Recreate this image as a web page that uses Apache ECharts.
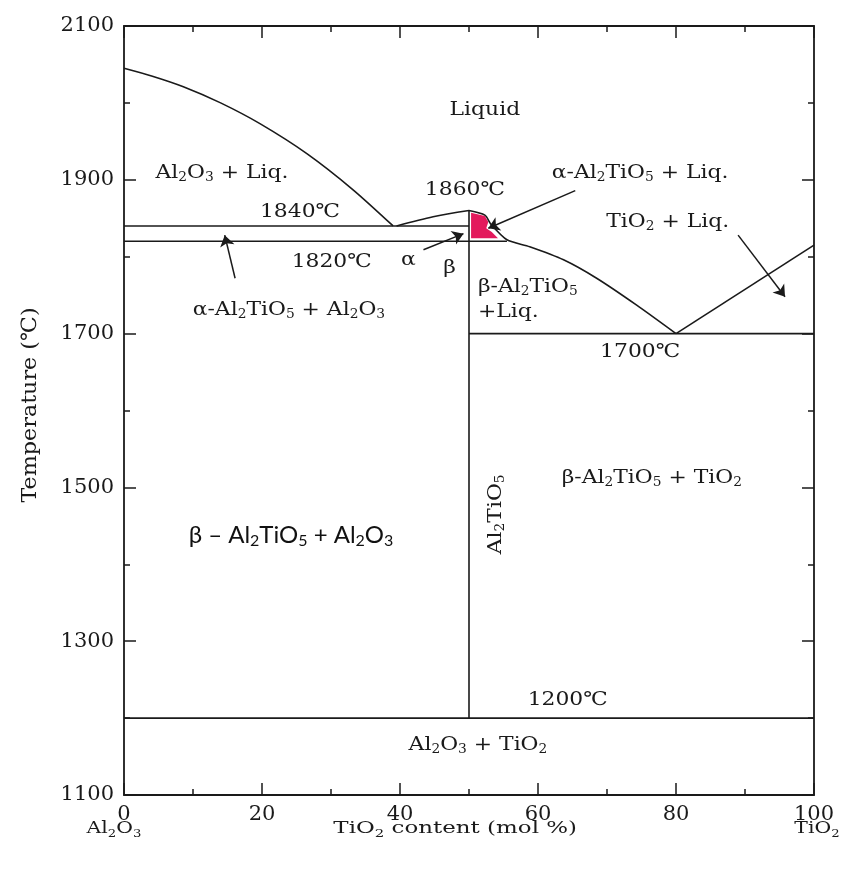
<!DOCTYPE html>
<html><head><meta charset="utf-8">
<script src="https://cdn.jsdelivr.net/npm/echarts@6/dist/echarts.min.js"></script>
<style>html,body{margin:0;padding:0;background:#fff}#c{width:849px;height:869px}</style>
</head><body><div id="c"></div>
<script>
// ---- data (TiO2 mol %, temperature °C) ----
const xTickLabels = [0, 20, 40, 60, 80, 100];
const yTickLabels = [1100, 1300, 1500, 1700, 1900, 2100];
const liquidusLeft = [[0,2045],[4,2035],[8.6,2021],[14,2000],[19.7,1973],[26.5,1934],[33.2,1887],[39,1840]];
const liquidusMid = [[39.5,1840],[44.8,1852],[50,1860]];
const liquidusRight = [[50,1860],[52.3,1854],[53.2,1842],[55.5,1822],[58.8,1813],[63.7,1796],[68.5,1772],[74.3,1737],[80,1700]];
const liquidusTiO2 = [[80,1700],[100,1815]];
const iso1840 = [[0,1840],[50,1840]];
const iso1820 = [[0,1820],[55.5,1820]];
const iso1700 = [[50,1700],[100,1700]];
const iso1200 = [[0,1200],[100,1200]];
const al2tio5Line = [[50,1200],[50,1860]];
const alphaRegion = [[50.3,1857],[52.3,1853],[52.8,1845],[52.5,1837],[53.3,1832],[54.2,1824],[50.3,1824]];
const arrowTails = [[16.1,1772],[43.4,1809],[65.4,1886],[89.0,1828]];
const arrowHeads = [[14.6,1828],[49.2,1830],[52.8,1837],[95.8,1748]];
const labelTexts = ['Liquid','Al_2O_3 + Liq.','1840℃','1860℃','α-Al_2TiO_5 + Liq.','TiO_2 + Liq.','1820℃','α','β',
  'α-Al_2TiO_5 + Al_2O_3','β-Al_2TiO_5','+Liq.','1700℃','β-Al_2TiO_5 + TiO_2','Al_2O_3 + TiO_2','1200℃'];
const labelPos = [[52.3,1991],[14.2,1909],[25.5,1858],[49.4,1887],[74.8,1909],[78.8,1845],[30.1,1793],[41.2,1796],[47.2,1785],
  [23.9,1731],[51.3,1761],[51.3,1728],[74.8,1676],[76.5,1512],[51.3,1165],[64.3,1224]];
const labelAlign = ['center','center','center','center','center','center','center','center','center',
  'center','left','left','center','center','center','center'];
const sansLabel = 'β – Al_2TiO_5 + Al_2O_3';
const sansLabelPos = [24.2,1438];
const verticalLabel = 'Al_2TiO_5';
const verticalLabelPos = [53.9,1465];
const xAxisName = 'TiO_2 content (mol %)';
const yAxisName = 'Temperature (℃)';
const xEndLeft = 'Al_2O_3', xEndRight = 'TiO_2';

const SERIF = '"DejaVu Serif", "Liberation Serif", serif';
const SANS = 'Lato, "Open Sans", "Liberation Sans", sans-serif';
const INK = '#1a1a1a';

function toRich(s){ return s.replace(/_(\d)/g, '{s|$1}'); }
function serifRich(size){
  return { s: { fontFamily: SERIF, fontSize: Math.round(size*0.62), verticalAlign: 'bottom', lineHeight: Math.round(size*0.7), fill: INK } };
}

const chart = echarts.init(document.getElementById('c'), null, {renderer: 'canvas'});

function lineSeries(data, smooth){
  return { type: 'line', data: data, symbol: 'none', smooth: smooth || false, silent: true,
    lineStyle: { color: INK, width: 1.6 }, z: 3, animation: false };
}

const axisCommonX = {
  type: 'value', min: 0, max: 100, interval: 20,
  axisLine: { show: true, onZero: false, lineStyle: { color: INK, width: 1.8 } },
  axisTick: { show: true, inside: true, length: 12, lineStyle: { color: INK, width: 1.5 } },
  minorTick: { show: true, splitNumber: 2, length: 6, lineStyle: { color: INK, width: 1.5 } },
  splitLine: { show: false }, minorSplitLine: { show: false }
};
const axisCommonY = {
  type: 'value', min: 1100, max: 2100, interval: 200,
  axisLine: { show: true, onZero: false, lineStyle: { color: INK, width: 1.8 } },
  axisTick: { show: true, inside: true, length: 12, lineStyle: { color: INK, width: 1.5 } },
  minorTick: { show: true, splitNumber: 2, length: 6, lineStyle: { color: INK, width: 1.5 } },
  splitLine: { show: false }, minorSplitLine: { show: false }
};

chart.setOption({
  animation: false,
  backgroundColor: '#fff',
  grid: { left: 124, right: 35, top: 26, bottom: 74, containLabel: false },
  xAxis: [
    Object.assign({}, axisCommonX, { position: 'bottom',
      axisLabel: { show: true, margin: 9, fontFamily: SERIF, fontSize: 21, color: INK,
        formatter: v => xTickLabels.indexOf(v) >= 0 ? String(v) : '' } }),
    Object.assign({}, axisCommonX, { position: 'top', axisLabel: { show: false } })
  ],
  yAxis: [
    Object.assign({}, axisCommonY, { position: 'left',
      axisLabel: { show: true, margin: 10, fontFamily: SERIF, fontSize: 21, color: INK,
        formatter: v => yTickLabels.indexOf(v) >= 0 ? String(v) : '' } }),
    Object.assign({}, axisCommonY, { position: 'right', axisLabel: { show: false } })
  ],
  series: [
    { type: 'custom', silent: true, z: 2, data: [0],
      renderItem: function(params, api){
        const pts = alphaRegion.map(p => api.coord(p));
        return { type: 'polygon', shape: { points: pts }, style: { fill: '#e3195c', stroke: null } };
      } },
    lineSeries(liquidusLeft, 0.25),
    lineSeries(liquidusMid, 0.3),
    lineSeries(liquidusRight, 0.25),
    lineSeries(liquidusTiO2),
    lineSeries(iso1840),
    lineSeries(iso1820),
    lineSeries(iso1700),
    lineSeries(iso1200),
    lineSeries(al2tio5Line),
    { type: 'lines', coordinateSystem: 'cartesian2d', silent: true, z: 4,
      symbol: ['none','arrow'], symbolSize: [0, 11],
      lineStyle: { color: INK, width: 1.5, opacity: 1 },
      data: arrowTails.map((t, i) => ({ coords: [t, arrowHeads[i]] })) }
  ]
});

function px(p){ return chart.convertToPixel({ gridIndex: 0 }, p); }

const SX = 1.15;
const graphics = [];
labelTexts.forEach((t, i) => {
  const p = px(labelPos[i]);
  graphics.push({ type: 'text', x: p[0], y: p[1], scaleX: SX, z: 10, silent: true,
    style: { text: toRich(t), fontFamily: SERIF, fontSize: 19, fill: INK, align: labelAlign[i], verticalAlign: 'middle',
      lineHeight: 22, rich: serifRich(19) } });
});
{
  const p = px(sansLabelPos);
  graphics.push({ type: 'text', x: p[0], y: p[1], z: 10, silent: true,
    style: { text: toRich(sansLabel), fontFamily: SANS, fontSize: 24, fill: '#111', align: 'center', verticalAlign: 'middle',
      lineHeight: 28, rich: { s: { fontFamily: SANS, fontSize: 16, verticalAlign: 'bottom', lineHeight: 16, fill: '#111' } } } });
}
{
  const p = px(verticalLabelPos);
  graphics.push({ type: 'text', x: p[0], y: p[1], rotation: Math.PI/2, scaleX: SX, z: 10, silent: true,
    style: { text: toRich(verticalLabel), fontFamily: SERIF, fontSize: 19, fill: INK, align: 'center', verticalAlign: 'middle',
      lineHeight: 22, rich: serifRich(19) } });
}
// axis titles
const g = chart.getModel().getComponent('grid', 0).coordinateSystem.getRect();
const bottomY = g.y + g.height + 34;
graphics.push({ type: 'text', x: g.x + g.width * 0.48, y: bottomY, scaleX: 1.35, silent: true,
  style: { text: toRich(xAxisName), fontFamily: SERIF, fontSize: 17, fill: INK, align: 'center', verticalAlign: 'middle',
    lineHeight: 22, rich: serifRich(17) } });
graphics.push({ type: 'text', x: g.x - 10, y: bottomY, scaleX: 1.2, silent: true,
  style: { text: toRich(xEndLeft), fontFamily: SERIF, fontSize: 17, fill: INK, align: 'center', verticalAlign: 'middle',
    lineHeight: 22, rich: serifRich(17) } });
graphics.push({ type: 'text', x: g.x + g.width + 3, y: bottomY, scaleX: 1.2, silent: true,
  style: { text: toRich(xEndRight), fontFamily: SERIF, fontSize: 17, fill: INK, align: 'center', verticalAlign: 'middle',
    lineHeight: 22, rich: serifRich(17) } });
graphics.push({ type: 'text', x: 31, y: 405, rotation: Math.PI/2, scaleX: 1.06, silent: true,
  style: { text: yAxisName, fontFamily: SERIF, fontSize: 21, fill: INK, align: 'center', verticalAlign: 'middle' } });

chart.setOption({ graphic: graphics });
</script>
</body></html>
